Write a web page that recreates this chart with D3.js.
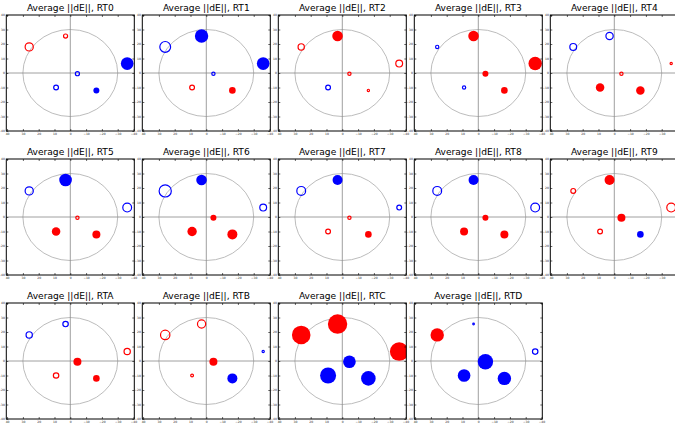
<!DOCTYPE html>
<html>
<head>
<meta charset="utf-8">
<script src="https://cdn.jsdelivr.net/npm/d3@7"></script>
<style>
  html, body { margin: 0; padding: 0; background: #fff; }
  svg { display: block; }
  text { font-family: "DejaVu Sans", sans-serif; }
</style>
</head>
<body>
<svg id="chart" width="675" height="423"></svg>
<script>
// Readout channels, one small panel each
const channels = ["RT0", "RT1", "RT2", "RT3", "RT4", "RT5", "RT6",
                  "RT7", "RT8", "RT9", "RTA", "RTB", "RTC", "RTD"];

// Sensor positions (x axis runs from +40 on the left to -40 on the right)
const sensorX = [26, 3, -36, -4.5, 9, -16.5];
const sensorY = [18, 25.5, 6.5, -0.5, -10, -12];

// Signed average ||dE|| per sensor (sign: red > 0, blue < 0)
const dE_RT0 = [22, 7, -40, -7, -9, -9];
const dE_RT1 = [-36, -45, -40, -5, 9, 11];
const dE_RT2 = [14, 28, 16, 5, -9, 3];
const dE_RT3 = [-5, 28, 45, 9, -5, 11];
const dE_RT4 = [-16, -18, 3, 5, 18, 18];
const dE_RT5 = [-22, -40, -25, 5, 18, 16];
const dE_RT6 = [-45, -28, -16, 9, 22, 25];
const dE_RT7 = [-25, -25, -9, 5, 9, 11];
const dE_RT8 = [-25, -25, -25, 9, 16, 16];
const dE_RT9 = [9, 25, 25, 16, 9, -11];
const dE_RTA = [-14, -11, 14, 16, 11, 11];
const dE_RTB = [28, 22, -3, 16, 4, -25];
const dE_RTC = [86, 94, 86, -40, -64, -53];
const dE_RTD = [45, -2, -11, -59, -40, -45];

// Significant sensors are drawn filled (1), the rest as open rings (0)
const sig_RT0 = [0, 0, 1, 0, 0, 1];
const sig_RT1 = [0, 1, 1, 0, 0, 1];
const sig_RT2 = [0, 1, 0, 0, 0, 0];
const sig_RT3 = [0, 1, 1, 1, 0, 1];
const sig_RT4 = [0, 0, 0, 0, 1, 1];
const sig_RT5 = [0, 1, 0, 0, 1, 1];
const sig_RT6 = [0, 1, 0, 1, 1, 1];
const sig_RT7 = [0, 1, 0, 0, 0, 1];
const sig_RT8 = [0, 1, 0, 1, 1, 1];
const sig_RT9 = [0, 1, 0, 1, 0, 1];
const sig_RTA = [0, 0, 0, 1, 0, 1];
const sig_RTB = [0, 0, 0, 1, 0, 1];
const sig_RTC = [1, 1, 1, 1, 1, 1];
const sig_RTD = [1, 0, 0, 1, 1, 1];

const xTicks = [-40, -30, -20, -10, 0, 10, 20, 30, 40];
const yTicks = [-40, -30, -20, -10, 0, 10, 20, 30, 40];
const refRadius = 30;

const dEByChannel = [dE_RT0, dE_RT1, dE_RT2, dE_RT3, dE_RT4, dE_RT5, dE_RT6,
                     dE_RT7, dE_RT8, dE_RT9, dE_RTA, dE_RTB, dE_RTC, dE_RTD];
const sigByChannel = [sig_RT0, sig_RT1, sig_RT2, sig_RT3, sig_RT4, sig_RT5, sig_RT6,
                      sig_RT7, sig_RT8, sig_RT9, sig_RTA, sig_RTB, sig_RTC, sig_RTD];

const svg = d3.select("#chart");
const nCols = 5;
const colStep = 136, rowStep = 144;
const firstCx = 70.3, firstCy = 73;
const halfW = 64, halfH = 58;

const rScale = d3.scaleSqrt().domain([0, 100]).range([0, 10]);

channels.forEach((name, i) => {
  const col = i % nCols, row = Math.floor(i / nCols);
  const cx = firstCx + col * colStep, cy = firstCy + row * rowStep;
  const left = cx - halfW, top = cy - halfH;
  const w = 2 * halfW, h = 2 * halfH;

  const x = d3.scaleLinear().domain([40.5, -40.5]).range([left, left + w]);
  const y = d3.scaleLinear().domain([40, -40]).range([top, top + h]);

  const g = svg.append("g");
  const clipId = "clip" + i;
  g.append("clipPath").attr("id", clipId)
    .append("rect").attr("x", left).attr("y", top).attr("width", w).attr("height", h);

  // reference circle and crosshair
  g.append("ellipse")
    .attr("cx", x(0)).attr("cy", y(0))
    .attr("rx", Math.abs(x(refRadius) - x(0)))
    .attr("ry", Math.abs(y(refRadius) - y(0)))
    .attr("fill", "none").attr("stroke", "#b4b4b4").attr("stroke-width", 0.9);
  g.append("line").attr("x1", left).attr("x2", left + w).attr("y1", y(0)).attr("y2", y(0))
    .attr("stroke", "#888").attr("stroke-width", 0.8);
  g.append("line").attr("x1", x(0)).attr("x2", x(0)).attr("y1", top).attr("y2", top + h)
    .attr("stroke", "#888").attr("stroke-width", 0.8);

  // sensors
  const vals = dEByChannel[i], sig = sigByChannel[i];
  const pts = vals.map((v, k) => ({ x: sensorX[k], y: sensorY[k], v, filled: sig[k] === 1 }));
  g.append("g").attr("clip-path", `url(#${clipId})`)
    .selectAll("circle").data(pts).join("circle")
    .attr("cx", d => x(d.x)).attr("cy", d => y(d.y))
    .attr("r", d => d.filled ? rScale(Math.abs(d.v)) : Math.max(0.6, rScale(Math.abs(d.v)) - 0.6))
    .attr("fill", d => d.filled ? (d.v > 0 ? "#ff0000" : "#0000ff") : "none")
    .attr("stroke", d => d.v > 0 ? "#ff0000" : "#0000ff")
    .attr("stroke-width", d => d.filled ? 0 : 1.2);

  // axes with inward ticks on all four sides
  const tickLen = 2;
  const axB = d3.axisBottom(x).tickValues(xTicks).tickSizeInner(-tickLen).tickSizeOuter(0).tickPadding(1.5);
  const axT = d3.axisTop(x).tickValues(xTicks).tickSizeInner(-tickLen).tickSizeOuter(0).tickFormat("");
  const axL = d3.axisLeft(y).tickValues(yTicks).tickSizeInner(-tickLen).tickSizeOuter(0).tickPadding(1.5);
  const axR = d3.axisRight(y).tickValues(yTicks).tickSizeInner(-tickLen).tickSizeOuter(0).tickFormat("");

  [[axB, `translate(0,${top + h})`], [axT, `translate(0,${top})`],
   [axL, `translate(${left},0)`], [axR, `translate(${left + w},0)`]].forEach(([ax, tr]) => {
    const a = g.append("g").attr("transform", tr).call(ax);
    a.select(".domain").remove();
    a.selectAll("line").attr("stroke", "#000").attr("stroke-width", 0.6);
    a.selectAll("text").attr("font-size", 3).attr("fill", "#222")
      .attr("font-family", "DejaVu Sans, sans-serif");
  });

  g.append("rect").attr("x", left).attr("y", top).attr("width", w).attr("height", h)
    .attr("fill", "none").attr("stroke", "#000").attr("stroke-width", 1);

  g.append("text")
    .attr("x", cx).attr("y", top - 4)
    .attr("text-anchor", "middle")
    .attr("font-size", 9.1).attr("fill", "#000")
    .text(`Average ||dE||, ${name}`);
});
</script>
</body>
</html>
